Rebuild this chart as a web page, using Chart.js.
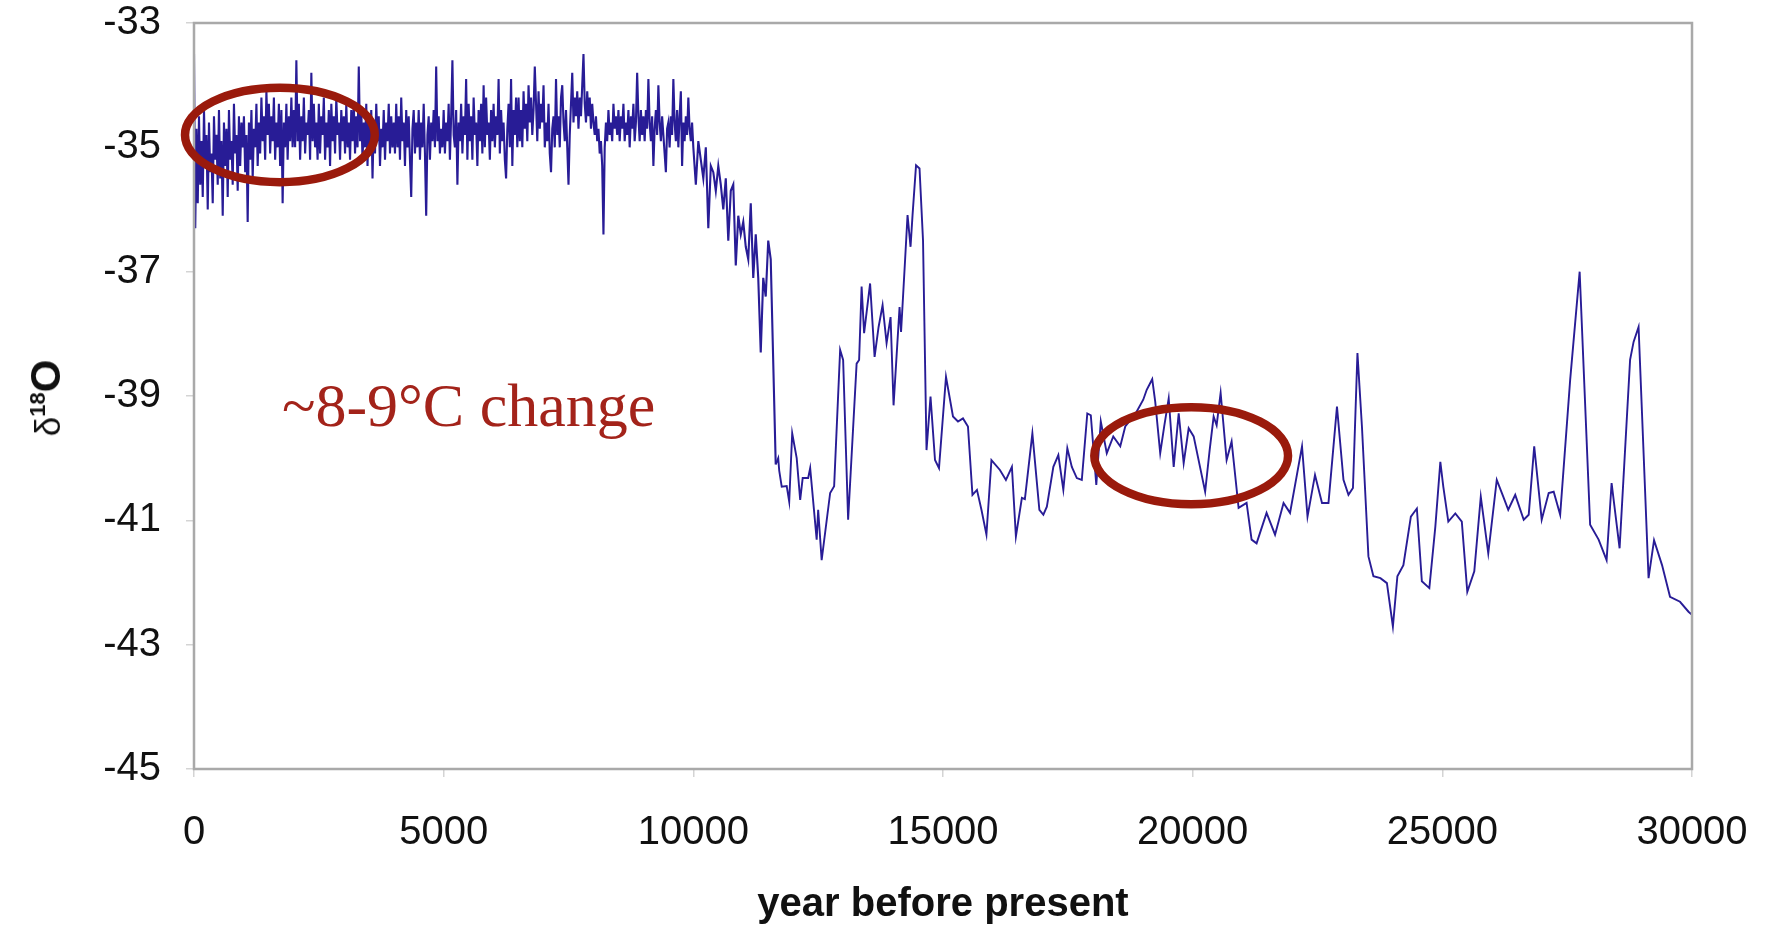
<!DOCTYPE html>
<html>
<head>
<meta charset="utf-8">
<title>d18O ice core record</title>
<script src="https://cdn.jsdelivr.net/npm/chart.js@4.4.1/dist/chart.umd.min.js"></script>
<style>
    html, body { margin: 0; padding: 0; background: #ffffff; }
    #wrap { position: relative; width: 1769px; height: 930px; background: #ffffff; }
    #ytitle {
        position: absolute;
        left: 46px;
        top: 398px;
        transform: translate(-50%, -50%) rotate(-90deg);
        font-family: "Liberation Sans", Arial, sans-serif;
        color: #111111;
        white-space: nowrap;
        line-height: 1;
    }
    #ytitle .delta { font-size: 35px; }
    #ytitle sup { font-size: 22px; font-weight: bold; vertical-align: 15px; }
    #ytitle b { font-size: 42px; }
</style>
</head>
<body>
<div id="wrap">
    <canvas id="isotopeChart"></canvas>
    <div id="ytitle"><span class="delta">δ</span><sup>18</sup><b>O</b></div>
</div>
<script>
// Holocene part: every 25 years up to 10 ka, then every 50 years
const holoceneYears = [
    0, 25, 50, 75, 100, 125, 150, 175, 200, 225, 250, 275, 300, 325, 350, 375, 400, 425, 450, 475,
    500, 525, 550, 575, 600, 625, 650, 675, 700, 725, 750, 775, 800, 825, 850, 875, 900, 925, 950, 975,
    1000, 1025, 1050, 1075, 1100, 1125, 1150, 1175, 1200, 1225, 1250, 1275, 1300, 1325, 1350, 1375, 1400, 1425, 1450, 1475,
    1500, 1525, 1550, 1575, 1600, 1625, 1650, 1675, 1700, 1725, 1750, 1775, 1800, 1825, 1850, 1875, 1900, 1925, 1950, 1975,
    2000, 2025, 2050, 2075, 2100, 2125, 2150, 2175, 2200, 2225, 2250, 2275, 2300, 2325, 2350, 2375, 2400, 2425, 2450, 2475,
    2500, 2525, 2550, 2575, 2600, 2625, 2650, 2675, 2700, 2725, 2750, 2775, 2800, 2825, 2850, 2875, 2900, 2925, 2950, 2975,
    3000, 3025, 3050, 3075, 3100, 3125, 3150, 3175, 3200, 3225, 3250, 3275, 3300, 3325, 3350, 3375, 3400, 3425, 3450, 3475,
    3500, 3525, 3550, 3575, 3600, 3625, 3650, 3675, 3700, 3725, 3750, 3775, 3800, 3825, 3850, 3875, 3900, 3925, 3950, 3975,
    4000, 4025, 4050, 4075, 4100, 4125, 4150, 4175, 4200, 4225, 4250, 4275, 4300, 4325, 4350, 4375, 4400, 4425, 4450, 4475,
    4500, 4525, 4550, 4575, 4600, 4625, 4650, 4675, 4700, 4725, 4750, 4775, 4800, 4825, 4850, 4875, 4900, 4925, 4950, 4975,
    5000, 5025, 5050, 5075, 5100, 5125, 5150, 5175, 5200, 5225, 5250, 5275, 5300, 5325, 5350, 5375, 5400, 5425, 5450, 5475,
    5500, 5525, 5550, 5575, 5600, 5625, 5650, 5675, 5700, 5725, 5750, 5775, 5800, 5825, 5850, 5875, 5900, 5925, 5950, 5975,
    6000, 6025, 6050, 6075, 6100, 6125, 6150, 6175, 6200, 6225, 6250, 6275, 6300, 6325, 6350, 6375, 6400, 6425, 6450, 6475,
    6500, 6525, 6550, 6575, 6600, 6625, 6650, 6675, 6700, 6725, 6750, 6775, 6800, 6825, 6850, 6875, 6900, 6925, 6950, 6975,
    7000, 7025, 7050, 7075, 7100, 7125, 7150, 7175, 7200, 7225, 7250, 7275, 7300, 7325, 7350, 7375, 7400, 7425, 7450, 7475,
    7500, 7525, 7550, 7575, 7600, 7625, 7650, 7675, 7700, 7725, 7750, 7775, 7800, 7825, 7850, 7875, 7900, 7925, 7950, 7975,
    8000, 8025, 8050, 8075, 8100, 8125, 8150, 8175, 8200, 8225, 8250, 8275, 8300, 8325, 8350, 8375, 8400, 8425, 8450, 8475,
    8500, 8525, 8550, 8575, 8600, 8625, 8650, 8675, 8700, 8725, 8750, 8775, 8800, 8825, 8850, 8875, 8900, 8925, 8950, 8975,
    9000, 9025, 9050, 9075, 9100, 9125, 9150, 9175, 9200, 9225, 9250, 9275, 9300, 9325, 9350, 9375, 9400, 9425, 9450, 9475,
    9500, 9525, 9550, 9575, 9600, 9625, 9650, 9675, 9700, 9725, 9750, 9775, 9800, 9825, 9850, 9875, 9900, 9925, 9950, 9975,
    10000, 10050, 10100, 10150, 10200, 10250, 10300, 10350, 10400, 10450,
    10500, 10550, 10600, 10650, 10700, 10750, 10800, 10850, 10900, 10950,
    11000, 11050, 11100, 11150, 11200, 11250, 11300, 11350, 11400, 11450,
    11500, 11550
];

const holoceneD18O = [
    -33.5, -36.3, -34.7, -35.9, -34.5, -35.6, -34.9, -35.8, -34.4, -35.3, -34.8, -36.0, -34.6, -35.4, -35.1, -35.9, -34.5, -35.2, -34.8, -35.6,
    -34.4, -35.5, -34.9, -36.1, -34.6, -35.3, -34.7, -35.8, -34.4, -35.2, -34.9, -35.6, -34.3, -35.1, -34.8, -35.7, -34.5, -35.3, -34.6, -35.0,
    -34.5, -35.4, -34.8, -36.2, -34.6, -35.2, -34.4, -35.5, -34.7, -35.0, -34.3, -35.3, -34.6, -35.1, -34.2, -34.9, -34.5, -35.2, -34.1, -34.8,
    -34.3, -35.1, -34.5, -34.9, -34.2, -35.2, -34.6, -35.0, -34.3, -35.3, -34.4, -35.9, -34.6, -35.0, -34.3, -35.2, -34.5, -34.9, -34.2, -35.0,
    -34.4, -35.0, -33.6, -34.9, -34.3, -35.2, -34.5, -34.9, -34.2, -35.1, -34.6, -34.8, -34.4, -35.2, -33.8, -34.9, -34.3, -35.0, -34.6, -35.2,
    -34.3, -35.1, -34.5, -34.8, -34.2, -35.2, -34.6, -35.0, -34.4, -35.3, -34.3, -34.9, -34.5, -35.1, -34.2, -34.8, -34.6, -35.2, -34.4, -34.9,
    -34.5, -35.1, -34.3, -35.0, -34.6, -35.2, -34.4, -34.9, -34.3, -35.1, -34.5, -35.0, -33.7, -34.9, -34.4, -35.2, -34.6, -35.0, -34.3, -35.3,
    -34.5, -35.0, -34.4, -35.5, -34.6, -35.1, -34.3, -34.9, -34.5, -35.3, -34.7, -35.0, -34.4, -35.2, -34.6, -34.9, -34.3, -35.1, -34.5, -35.0,
    -34.6, -35.1, -34.3, -35.0, -34.5, -35.2, -34.2, -34.9, -34.6, -35.3, -34.4, -35.0, -34.5, -35.2, -35.8, -34.7, -34.4, -35.1, -34.6, -35.0,
    -34.4, -35.2, -34.6, -35.0, -34.3, -35.1, -36.1, -34.8, -34.5, -35.2, -34.6, -34.9, -34.4, -35.0, -33.7, -34.9, -34.5, -35.1, -34.7, -35.0,
    -34.4, -35.1, -34.6, -34.9, -34.3, -35.2, -34.5, -33.6, -34.8, -35.0, -34.4, -35.6, -34.6, -34.9, -34.3, -35.1, -34.5, -34.8, -33.9, -35.2,
    -34.3, -34.9, -34.5, -35.2, -34.2, -34.8, -34.6, -35.3, -34.4, -34.9, -34.3, -35.1, -34.0, -35.0, -34.2, -34.8, -34.6, -35.2, -34.4, -34.9,
    -34.3, -35.0, -34.5, -34.8, -33.9, -35.1, -34.4, -34.9, -34.6, -35.2, -35.5, -34.7, -34.3, -35.0, -33.9, -35.3, -34.4, -34.8, -34.2, -35.0,
    -34.2, -34.9, -34.4, -35.0, -34.1, -34.7, -34.3, -34.9, -34.0, -34.6, -34.2, -34.8, -34.4, -33.7, -34.3, -34.9, -34.1, -34.7, -34.3, -34.6,
    -34.0, -35.0, -34.6, -34.9, -34.3, -35.1, -35.4, -34.7, -34.5, -35.0, -33.9, -34.8, -34.5, -35.0, -34.2, -34.0, -34.6, -34.9, -34.4, -35.0,
    -35.6, -34.8, -34.3, -33.8, -34.6, -34.2, -34.5, -34.1, -34.7, -34.2, -34.5, -34.0, -33.5, -34.3, -34.6, -34.1, -34.5, -34.2, -34.7, -34.3,
    -34.6, -34.8, -34.5, -34.9, -34.7, -35.1, -34.9, -35.3, -36.4, -35.0, -34.6, -34.9, -34.4, -34.8, -34.6, -34.9, -34.3, -34.7, -34.5, -34.8,
    -34.4, -34.9, -34.5, -34.7, -34.3, -34.9, -34.6, -34.8, -34.4, -35.0, -34.5, -34.7, -34.3, -34.9, -34.6, -33.8, -34.5, -34.9, -34.4, -34.8,
    -34.5, -34.9, -34.4, -34.7, -33.9, -34.6, -34.9, -34.5, -35.3, -34.7, -34.4, -34.8, -34.0, -34.6, -34.9, -34.5, -34.8, -35.1, -35.4, -34.7,
    -34.6, -35.0, -34.5, -34.8, -33.9, -34.6, -34.9, -34.4, -35.0, -34.5, -34.1, -35.3, -34.6, -34.9, -34.5, -34.8, -34.2, -34.7, -34.9, -34.6,
    -35.0, -35.6, -34.9, -35.2, -35.5, -35.0, -36.3, -35.3, -35.4, -35.7,
    -35.3, -35.6, -36.0, -35.5, -36.5, -35.7, -35.6, -36.9, -36.1, -36.4,
    -36.2, -36.6, -36.8, -35.9, -37.1, -36.4, -37.1, -38.3, -37.1, -37.4,
    -36.5, -36.8
];

// glacial part, irregular spacing
const glacialYears = [
    11650, 11700, 11720, 11770, 11870, 11920, 11980, 12070, 12140, 12190,
    12300, 12340, 12470, 12500, 12570, 12740, 12820, 12940, 13000, 13100,
    13270, 13320, 13370, 13420, 13540, 13630, 13710, 13790, 13870, 13950,
    14010, 14130, 14160, 14240, 14290, 14350, 14390, 14460, 14530, 14600,
    14670, 14750, 14840, 14920, 15060, 15200, 15300, 15400, 15500, 15590,
    15680, 15770, 15870, 15970, 16140, 16260, 16380, 16460, 16580, 16640,
    16790, 16930, 17010, 17080, 17210, 17310, 17410, 17490, 17580, 17680,
    17780, 17890, 17960, 18070, 18160, 18280, 18410, 18550, 18650, 18750,
    18880, 19010, 19080, 19190, 19250, 19350, 19430, 19520, 19620, 19720,
    19820, 19920, 20020, 20250, 20340, 20420, 20480, 20560, 20680, 20780,
    20920, 21080, 21180, 21280, 21480, 21650, 21820, 21950, 22190, 22300,
    22450, 22590, 22720, 22890, 23020, 23120, 23210, 23300, 23390, 23520,
    23620, 23760, 23890, 24010, 24100, 24220, 24370, 24490, 24590, 24740,
    24860, 24960, 25020, 25120, 25260, 25390, 25500, 25640, 25770, 25920,
    26090, 26220, 26320, 26460, 26630, 26730, 26840, 26990, 27130, 27230,
    27360, 27560, 27750, 27960, 28130, 28290, 28390, 28550, 28760, 28830,
    28930, 29130, 29240, 29400, 29560, 29760, 29930, 30000
];

const glacialD18O = [
    -40.1, -40.0, -40.2, -40.46, -40.45, -40.7, -39.6, -40.0, -40.67, -40.32,
    -40.32, -40.16, -41.31, -40.83, -41.64, -40.56, -40.45, -38.26, -38.42, -40.99,
    -38.48, -38.42, -37.24, -37.99, -37.19, -38.37, -37.89, -37.54, -38.15, -37.73,
    -39.15, -37.57, -37.97, -36.82, -36.09, -36.6, -36.09, -35.29, -35.34, -36.5,
    -39.87, -39.01, -40.03, -40.16, -38.69, -39.33, -39.41, -39.36, -39.49, -40.59,
    -40.51, -40.83, -41.23, -40.03, -40.19, -40.35, -40.14, -41.26, -40.64, -40.66,
    -39.6, -40.83, -40.91, -40.78, -40.14, -39.95, -40.51, -39.84, -40.14, -40.32,
    -40.35, -39.28, -39.31, -40.43, -39.41, -39.92, -39.65, -39.81, -39.49, -39.39,
    -39.25, -39.06, -38.9, -38.73, -39.09, -39.92, -39.49, -39.04, -40.14, -39.28,
    -40.08, -39.52, -39.65, -40.54, -39.87, -39.33, -39.47, -38.95, -40.03, -39.73,
    -40.8, -40.72, -41.31, -41.37, -40.88, -41.23, -40.72, -40.88, -39.81, -40.94,
    -40.27, -40.72, -40.72, -39.17, -40.35, -40.59, -40.48, -38.31, -39.49, -41.58,
    -41.9, -41.93, -42.01, -42.71, -41.9, -41.72, -40.94, -40.81, -41.98, -42.09,
    -41.1, -40.06, -40.46, -41.02, -40.89, -41.02, -42.15, -41.82, -40.62, -41.53,
    -40.35, -40.62, -40.83, -40.59, -40.99, -40.91, -39.81, -40.99, -40.56, -40.54,
    -40.91, -38.74, -37.0, -41.07, -41.31, -41.64, -40.4, -41.45, -38.42, -38.13,
    -37.89, -41.93, -41.32, -41.72, -42.23, -42.31, -42.47, -42.52
];

const xTicks = [0, 5000, 10000, 15000, 20000, 25000, 30000];
const yTicks = [-45, -43, -41, -39, -37, -35, -33];

// red ellipses, in year / per-mil units
const ellipseYears = [1720, 19970];
const ellipseValues = [-34.8, -39.96];
const ellipseHalfWidthYears = [1900, 1940];
const ellipseHalfHeightValues = [0.76, 0.78];

const noteText = "~8-9°C change";
const noteYear = 1760;
const noteValue = -39.49;

const points = [];
holoceneYears.forEach((yr, i) => points.push({ x: yr, y: holoceneD18O[i] }));
glacialYears.forEach((yr, i) => points.push({ x: yr, y: glacialD18O[i] }));

const frameAndNotes = {
    id: "frameAndNotes",
    afterDatasetsDraw(chart) {
        const { ctx, chartArea, scales } = chart;
        const x = scales.x;
        const y = scales.y;

        ctx.save();
        ctx.strokeStyle = "#a9a9a9";
        ctx.lineWidth = 2.5;
        ctx.strokeRect(chartArea.left, chartArea.top, chartArea.right - chartArea.left, chartArea.bottom - chartArea.top);

        ctx.strokeStyle = "#9a1a0c";
        ctx.lineWidth = 8.5;
        ellipseYears.forEach((yr, i) => {
            const cx = x.getPixelForValue(yr);
            const cy = y.getPixelForValue(ellipseValues[i]);
            const rx = Math.abs(x.getPixelForValue(yr + ellipseHalfWidthYears[i]) - cx);
            const ry = Math.abs(y.getPixelForValue(ellipseValues[i] + ellipseHalfHeightValues[i]) - cy);
            ctx.beginPath();
            ctx.ellipse(cx, cy, rx, ry, 0, 0, Math.PI * 2);
            ctx.stroke();
        });

        ctx.fillStyle = "#a3231a";
        ctx.font = '62px "Liberation Serif", "Times New Roman", serif';
        ctx.textAlign = "left";
        ctx.textBaseline = "alphabetic";
        ctx.fillText(noteText, x.getPixelForValue(noteYear), y.getPixelForValue(noteValue));
        ctx.restore();
    }
};

Chart.defaults.font.family = '"Liberation Sans", Arial, sans-serif';
Chart.defaults.color = "#111111";

new Chart(document.getElementById("isotopeChart"), {
    type: "line",
    data: {
        datasets: [{
            label: "d18O",
            data: points,
            borderColor: "#281c96",
            borderWidth: 1.9,
            segment: {
                borderWidth: ctx => (ctx.p0.parsed.x < 11600 ? 2.1 : 1.9)
            },
            pointRadius: 0,
            tension: 0,
            fill: false
        }]
    },
    options: {
        responsive: true,
        maintainAspectRatio: false,
        animation: false,
        parsing: false,
        layout: {
            padding: { top: 23, right: 77, bottom: 0, left: 0 }
        },
        plugins: {
            legend: { display: false },
            tooltip: { enabled: false }
        },
        scales: {
            x: {
                type: "linear",
                min: 0,
                max: 30000,
                afterBuildTicks: scale => {
                    scale.ticks = xTicks.map(v => ({ value: v }));
                },
                afterFit: scale => {
                    scale.height = 161;
                    scale.paddingLeft = 0;
                    scale.paddingRight = 0;
                },
                ticks: {
                    padding: 36,
                    maxRotation: 0,
                    font: { size: 40, lineHeight: 1 },
                    callback: value => String(value)
                },
                grid: {
                    drawOnChartArea: false,
                    drawTicks: true,
                    tickLength: 8,
                    color: "#d4d4d4",
                    lineWidth: 1.5
                },
                border: { display: false },
                title: {
                    display: true,
                    text: "year before present",
                    font: { size: 40, weight: "bold", lineHeight: 1.2 },
                    padding: { top: 0, bottom: 1 }
                }
            },
            y: {
                type: "linear",
                min: -45,
                max: -33,
                afterBuildTicks: scale => {
                    scale.ticks = yTicks.map(v => ({ value: v }));
                },
                afterFit: scale => {
                    scale.width = 194;
                    scale.paddingTop = 0;
                    scale.paddingBottom = 0;
                },
                ticks: {
                    padding: 25,
                    font: { size: 40, lineHeight: 1 },
                    callback: value => String(value)
                },
                grid: {
                    drawOnChartArea: false,
                    drawTicks: true,
                    tickLength: 8,
                    color: "#d4d4d4",
                    lineWidth: 1.5
                },
                border: { display: false }
            }
        }
    },
    plugins: [frameAndNotes]
});
</script>
</body>
</html>
